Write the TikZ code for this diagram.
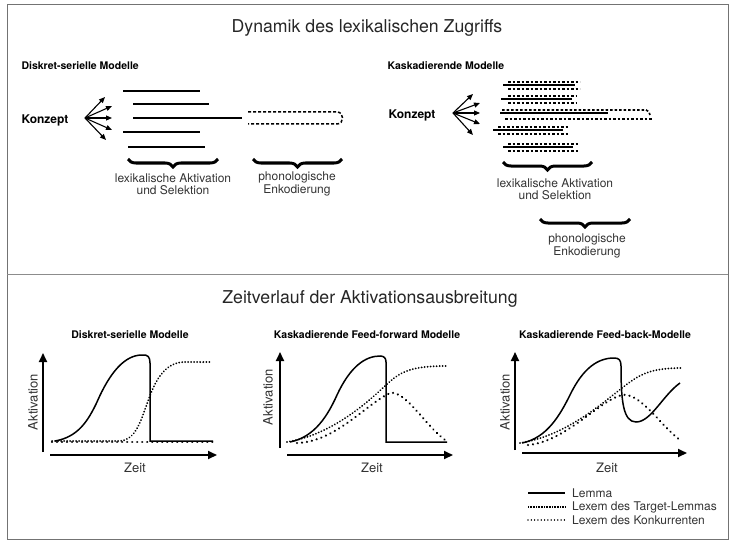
\documentclass[tikz,border=0pt]{standalone}
\usepackage{fontspec}
\setmainfont{TeX Gyre Heros}
\usetikzlibrary{arrows.meta,decorations.pathreplacing}
\begin{document}
\begin{tikzpicture}[x=1pt,y=-1pt,
  frame/.style={draw=black!55, line width=0.9pt},
  divider/.style={draw=black!45, line width=0.8pt},
  bigtitle/.style={font=\fontsize{17.7}{20}\selectfont, text=black!85},
  sub/.style={font=\bfseries\fontsize{10.5}{12}\selectfont},
  konz/.style={font=\bfseries\fontsize{12}{14}\selectfont},
  lbl/.style={font=\fontsize{12}{12.3}\selectfont, align=center, text=black!80, inner sep=0pt},
  axlbl/.style={font=\fontsize{13}{15}\selectfont, text=black!80, inner sep=0pt},
  lemma/.style={line width=1.5pt},
  target/.style={line width=2pt, line cap=round, dash pattern=on 0.01pt off 3pt},
  rival/.style={line width=2.4pt, line cap=round, dash pattern=on 0.01pt off 5pt},
  axisarrow/.style={line width=2pt, -{Triangle[length=9pt,width=8pt]}},
  karrow/.style={line width=1.1pt, -{Triangle[length=6pt,width=5pt]}},
  bracestyle/.style={decorate, decoration={brace, amplitude=8pt, aspect=0.5}, line width=3pt},
  phon/.style={line width=1.5pt, dash pattern=on 3pt off 2pt},
  sq/.style={line width=1.6pt, dash pattern=on 2.5pt off 2pt},
  lexline/.style={line width=1.5pt}]
\useasboundingbox (0,0) rectangle (735,548);
% frame
\draw[frame] (7,4) rectangle (728,539);
\coordinate (dl) at (7,274); \coordinate (dr) at (728,274);
\draw[divider] (dl) -- (dr);

% titles
\node[bigtitle] (t1) at (367,28) {Dynamik des lexikalischen Zugriffs};
\node[bigtitle] (t2) at (370,299) {Zeitverlauf der Aktivationsausbreitung};

% ---------- top left ----------
\node[sub, anchor=west] (s1) at (18,66) {Diskret-serielle Modelle};
\node[konz] (k1) at (45,120) {Konzept};
\coordinate (k1o) at (85,118);
\foreach \i/\x/\y in {a/105/97, b/112/106, c/112/118, d/112/130, e/106/140}
  \coordinate (k1\i) at (\x,\y);
\foreach \i in {a,b,c,d,e} \draw[karrow] (k1o) -- (k1\i);
\foreach \n/\xa/\xb/\y in {1/123/200/91, 2/133/209/104, 3/133/242/118, 4/123/200/132, 5/128/205/147}{
  \coordinate (la\n) at (\xa,\y); \coordinate (lb\n) at (\xb,\y);
  \draw[lexline] (la\n) -- (lb\n);}
\coordinate (pa) at (248,112); \coordinate (pb) at (337,112);
\coordinate (pc) at (337,124); \coordinate (pd) at (248,124);
\draw[phon] (pa) -- (pb) to[out=0,in=0,looseness=1.6] (pc) -- (pd);
\coordinate (b1l) at (128,159); \coordinate (b1r) at (218,159);
\draw[bracestyle] (b1r) -- (b1l);
\coordinate (b2l) at (253,159); \coordinate (b2r) at (342,159);
\draw[bracestyle] (b2r) -- (b2l);
\node[lbl] (l1) at (173,184) {lexikalische Aktivation\\und Selektion};
\node[lbl] (l2) at (297,184) {phonologische\\Enkodierung};

% ---------- top right ----------
\node[sub, anchor=west] (s2) at (384,66) {Kaskadierende Modelle};
\node[konz] (k2) at (412,115) {Konzept};
\coordinate (k2o) at (453,113);
\foreach \i/\x/\y in {a/473/94, b/480/103, c/480/113, d/480/124, e/473/135}
  \coordinate (k2\i) at (\x,\y);
\foreach \i in {a,b,c,d,e} \draw[karrow] (k2o) -- (k2\i);
\foreach \n/\sa/\sb/\da/\db/\y in {1/503/575/508/580/85, 2/501/572/508/577/99, 4/493/563/498/568/130, 5/503/573/508/579/147}{
  \coordinate (ta\n) at (\da,\y-3); \coordinate (tb\n) at (\db,\y-3);
  \coordinate (sa\n) at (\sa,\y); \coordinate (sb\n) at (\sb,\y);
  \coordinate (ua\n) at (\da,\y+4); \coordinate (ub\n) at (\db,\y+4);
  \draw[sq] (ta\n) -- (tb\n);
  \draw[lexline] (sa\n) -- (sb\n);
  \draw[sq] (ua\n) -- (ub\n);}
\coordinate (ta3) at (502,110); \coordinate (tb3) at (646,110); \coordinate (tc3) at (650,115);
\coordinate (sa3) at (500,113); \coordinate (sb3) at (608,113);
\coordinate (ua3) at (505,119); \coordinate (ub3) at (652,119);
\draw[sq] (ta3) -- (tb3) to[out=0,in=100] (tc3);
\draw[lexline] (sa3) -- (sb3);
\draw[sq] (ua3) -- (ub3);
\coordinate (b3l) at (503,162); \coordinate (b3r) at (592,162);
\draw[bracestyle] (b3r) -- (b3l);
\coordinate (b4l) at (540,219); \coordinate (b4r) at (630,219);
\draw[bracestyle] (b4r) -- (b4l);
\node[lbl] (l3) at (555,189) {lexikalische Aktivation\\und Selektion};
\node[lbl] (l4) at (587,246) {phonologische\\Enkodierung};

% ---------- graph 1 ----------
\node[sub] (g1t) at (130,335) {Diskret-serielle Modelle};
\coordinate (g1y0) at (43,452); \coordinate (g1y1) at (43,353);
\coordinate (g1x0) at (50,455); \coordinate (g1x1) at (217,455);
\draw[axisarrow] (g1y0) -- (g1y1);
\draw[axisarrow] (g1x0) -- (g1x1);
\node[axlbl, rotate=90] (g1a) at (33,402) {Aktivation};
\node[axlbl] (g1z) at (135,468) {Zeit};
\draw[rival] (52,442) -- (213,442);
\draw[target] (52,441) -- (120,441) .. controls (136,440) and (141,420) .. (148,401)
  .. controls (156,378) and (166,362) .. (185,362) -- (210,362);
\draw[lemma] (55,441) .. controls (78,437) and (88,421) .. (97,402)
  .. controls (110,372) and (125,355) .. (142,355) .. controls (148,354.5) and (150,357) .. (150,363)
  -- (150,441) -- (213,441);

% ---------- graph 2 ----------
\node[sub] (g2t) at (367,335) {Kaskadierende Feed-forward Modelle};
\coordinate (g2y0) at (280,448); \coordinate (g2y1) at (280,352);
\coordinate (g2x0) at (287,455); \coordinate (g2x1) at (453,455);
\draw[axisarrow] (g2y0) -- (g2y1);
\draw[axisarrow] (g2x0) -- (g2x1);
\node[axlbl, rotate=90] (g2a) at (268,397) {Aktivation};
\node[axlbl] (g2z) at (372,468) {Zeit};
\draw[target] (287,442) .. controls (330,435) and (365,405) .. (386,385)
  .. controls (400,372) and (410,366) .. (447,366);
\draw[rival] (297,443) .. controls (335,442) and (365,405) .. (390,393)
  .. controls (405,390) and (425,425) .. (445,440);
\draw[lemma] (290,442) .. controls (315,437) and (328,415) .. (337,395)
  .. controls (350,367) and (365,356) .. (380,356) .. controls (384,356) and (386,358) .. (386,362)
  -- (386,442) -- (447,442);

% ---------- graph 3 ----------
\node[sub] (g3t) at (605,335) {Kaskadierende Feed-back-Modelle};
\coordinate (g3y0) at (515,450); \coordinate (g3y1) at (515,352);
\coordinate (g3x0) at (522,453); \coordinate (g3x1) at (687,453);
\draw[axisarrow] (g3y0) -- (g3y1);
\draw[axisarrow] (g3x0) -- (g3x1);
\node[axlbl, rotate=90] (g3a) at (505,402) {Aktivation};
\node[axlbl] (g3z) at (607,468) {Zeit};
\draw[target] (520,443) .. controls (565,436) and (600,405) .. (622,388)
  .. controls (640,374) and (650,368) .. (683,368);
\draw[rival] (528,445) .. controls (565,442) and (600,400) .. (622,395)
  .. controls (640,392) and (660,425) .. (680,440);
\draw[lemma] (522,443) .. controls (547,438) and (560,415) .. (570,395)
  .. controls (583,368) and (598,358) .. (614,358) .. controls (619,358) and (621,360) .. (621,366)
  .. controls (621,400) and (623,422) .. (636,422) .. controls (651,422) and (663,395) .. (680,383);

% ---------- legend ----------
\coordinate (lg1a) at (528,493); \coordinate (lg1b) at (565,493);
\coordinate (lg2a) at (528,507); \coordinate (lg2b) at (565,507);
\coordinate (lg3a) at (528,520); \coordinate (lg3b) at (565,520);
\draw[lemma] (lg1a) -- (lg1b);
\draw[line width=1.5pt, dash pattern=on 0.8pt off 0.8pt] (lg2a) -- (lg2b);
\draw[line width=1.4pt, line cap=round, dash pattern=on 0.01pt off 3.3pt] (lg3a) -- (lg3b);
\node[lbl, anchor=west] (lt1) at (572,493) {Lemma};
\node[lbl, anchor=west] (lt2) at (572,507) {Lexem des Target-Lemmas};
\node[lbl, anchor=west] (lt3) at (572,520) {Lexem des Konkurrenten};
\end{tikzpicture}
\end{document}
